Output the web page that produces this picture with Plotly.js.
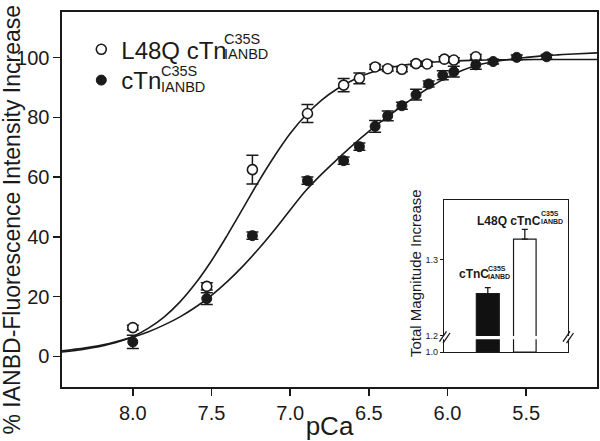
<!DOCTYPE html>
<html>
<head>
<meta charset="utf-8">
<script src="https://cdn.plot.ly/plotly-3.0.1.min.js"></script>
<style>
  html, body { margin: 0; padding: 0; background: #ffffff; }
  #chart { width: 600px; height: 441px; }
</style>
</head>
<body>
<div id="chart"></div>
<script>
// ---------------- data ----------------
const pCaOpen   = [8.00, 7.53, 7.24, 6.89, 6.66, 6.56, 6.46, 6.38, 6.29, 6.20, 6.13, 6.02, 5.96, 5.82];
const openVals  = [9.6, 23.4, 62.5, 81.3, 90.8, 93.1, 96.9, 96.3, 96.1, 98.0, 97.9, 99.5, 99.2, 100.3];
const openErr   = [0.8, 1.2, 4.8, 3.0, 2.2, 1.8, 0.8, 0.8, 0.8, 0.8, 0.8, 0.8, 0.8, 0.8];

const pCaFilled  = [8.00, 7.53, 7.24, 6.89, 6.66, 6.56, 6.46, 6.38, 6.29, 6.20, 6.12, 6.03, 5.96, 5.82, 5.71, 5.56, 5.37];
const filledVals = [4.8, 19.3, 40.4, 58.8, 65.5, 70.2, 77.0, 80.5, 83.9, 87.6, 91.2, 94.1, 95.3, 97.6, 98.7, 100.1, 100.3];
const filledErr  = [2.2, 2.0, 1.2, 1.2, 1.2, 1.2, 2.0, 1.6, 1.2, 1.8, 1.0, 1.5, 1.8, 1.5, 0.8, 0.8, 0.8];

// fitted curves
const curvePCa   = [8.45, 8.3, 8.15, 8.0, 7.9, 7.8, 7.7, 7.6, 7.5, 7.4, 7.3, 7.2, 7.1, 7.0, 6.9, 6.8, 6.7, 6.6, 6.5, 6.4, 6.3, 6.2, 6.1, 6.0, 5.9, 5.8, 5.7, 5.6, 5.5, 5.4, 5.3, 5.2, 5.05];
const curveOpen  = [1.4, 2.4, 4.0, 6.6, 9.4, 13.2, 18.2, 24.5, 32.0, 40.5, 49.5, 58.6, 67.0, 74.6, 80.8, 85.8, 89.6, 92.5, 94.8, 96.3, 97.3, 98.0, 98.5, 98.8, 99.0, 99.15, 99.25, 99.3, 99.35, 99.4, 99.4, 99.4, 99.4];
const curveFilled= [1.8, 2.8, 4.3, 6.4, 8.2, 10.5, 13.2, 16.5, 20.4, 25.0, 30.2, 36.0, 42.3, 49.0, 55.5, 61.0, 66.0, 70.8, 75.3, 79.5, 83.4, 87.1, 90.5, 93.5, 95.9, 97.6, 98.7, 99.5, 100.1, 100.6, 100.95, 101.25, 101.6];

const xTicks = [8.0, 7.5, 7.0, 6.5, 6.0, 5.5];
const yTicks = [0, 20, 40, 60, 80, 100];

// inset bar chart
const insetCats = ['cTnC', 'L48Q cTnC'];
const insetVals = [1.2555, 1.3273];
const insetErr  = [0.008, 0.013];
const insetColors = ['#111111', '#ffffff'];
const insetTickVals = [1.0, 1.2, 1.3];
const insetTickText = ['1.0', '1.2', '1.3'];

// ---------------- layout helpers ----------------
const W = 600, H = 441;
const M = {l: 62, r: 3, t: 12, b: 54};
const PW = W - M.l - M.r, PH = H - M.t - M.b;
const px2x = px => (px - M.l) / PW;
const py2y = py => (H - M.b - py) / PH;

const FN = "'Liberation Sans', Arial, sans-serif";
const INK = '#1a1a1a';

// broken inset axis: 1.0 .. 1.2 is compressed into a short stub
const breakLow = 1.2, stub = 0.0215;
const toDisp = v => v >= breakLow ? v : breakLow - (breakLow - v) / 0.2 * stub;
const insetBase = toDisp(1.0);

const traces = [
  {x: curvePCa, y: curveOpen, type: 'scatter', mode: 'lines', line: {color: INK, width: 1.6, shape: 'spline', smoothing: 1}, showlegend: false, hoverinfo: 'skip'},
  {x: curvePCa, y: curveFilled, type: 'scatter', mode: 'lines', line: {color: INK, width: 1.6, shape: 'spline', smoothing: 1}, showlegend: false, hoverinfo: 'skip'},
  {x: pCaOpen, y: openVals, type: 'scatter', mode: 'markers', name: 'L48Q cTn', legend: 'legend',
   marker: {symbol: 'circle', size: 10, color: '#ffffff', line: {color: INK, width: 1.6}},
   error_y: {type: 'data', array: openErr, visible: true, color: INK, thickness: 1.5, width: 6}},
  {x: pCaFilled, y: filledVals, type: 'scatter', mode: 'markers', name: 'cTn', legend: 'legend2',
   marker: {symbol: 'circle', size: 10, color: INK, line: {color: INK, width: 1}},
   error_y: {type: 'data', array: filledErr, visible: true, color: INK, thickness: 1.5, width: 6}},
  {x: insetCats, y: insetVals.map(v => v - insetBase), base: insetBase, type: 'bar', xaxis: 'x2', yaxis: 'y2',
   width: [0.62, 0.61], showlegend: false,
   marker: {color: insetColors, line: {color: INK, width: 1.2}},
   error_y: {type: 'data', symmetric: false, array: insetErr, arrayminus: [0, 0], visible: true, color: INK, thickness: 1.3, width: 3}}
];

const inL = 444.3, inR = 567.7, inT = 200, inB = 352;
const ix = px => (px - inL) / (inR - inL);
const iy = py => breakLow - (py - 335.7) / 757;

const shapes = [
  {type: 'rect', xref: 'x2 domain', yref: 'y2', x0: -0.03, x1: 1.03, y0: iy(339.2), y1: iy(335.9), fillcolor: '#ffffff', line: {width: 0}, layer: 'above'},
  {type: 'line', xref: 'x2 domain', yref: 'y2', x0: ix(439.5), y0: iy(341.5), x1: ix(446.5), y1: iy(331.5), line: {color: INK, width: 1.3}, layer: 'above'},
  {type: 'line', xref: 'x2 domain', yref: 'y2', x0: ix(443), y0: iy(343), x1: ix(450), y1: iy(333), line: {color: INK, width: 1.3}, layer: 'above'},
  {type: 'line', xref: 'x2 domain', yref: 'y2', x0: ix(563), y0: iy(341.5), x1: ix(570), y1: iy(331.5), line: {color: INK, width: 1.3}, layer: 'above'},
  {type: 'line', xref: 'x2 domain', yref: 'y2', x0: ix(566.5), y0: iy(343), x1: ix(573.5), y1: iy(333), line: {color: INK, width: 1.3}, layer: 'above'}
];

function ann(text, px, py, size, opts) {
  return Object.assign({text: text, xref: 'paper', yref: 'paper', x: px2x(px), y: py2y(py),
    xanchor: 'left', yanchor: 'middle', showarrow: false, borderpad: 0,
    font: {family: FN, size: size, color: INK}}, opts || {});
}

const annotations = [
  // main y-axis title
  ann('% IANBD-Fluorescence Intensity Increase', 11, 219.5, 23, {xanchor: 'center', textangle: -90}),
  // legend scripts
  ann('C35S', 223, 38.5, 14.5),
  ann('IANBD', 223, 54.5, 14.5),
  ann('C35S', 159.5, 70.5, 14.5),
  ann('IANBD', 159.5, 87, 14.5),
  // inset labels
  ann('<b>L48Q cTnC</b>', 475.5, 220.5, 12),
  ann('<b>C35S</b>', 540, 213.5, 7),
  ann('<b>IANBD</b>', 540, 221.5, 7),
  ann('<b>cTnC</b>', 458, 274, 12),
  ann('<b>C35S</b>', 487, 268.5, 7),
  ann('<b>IANBD</b>', 487, 276, 7),
  ann('Total Magnitude Increase', 415, 273, 15, {xanchor: 'center', textangle: -90})
];

const legendBase = {xanchor: 'left', yanchor: 'top', bgcolor: 'rgba(0,0,0,0)',
  font: {family: FN, size: 24, color: INK}, itemwidth: 30, borderwidth: 0};

const layout = {
  width: W, height: H,
  margin: M,
  paper_bgcolor: '#ffffff', plot_bgcolor: '#ffffff',
  font: {family: FN, color: INK},
  showlegend: true,
  legend: Object.assign({x: px2x(81.3), y: py2y(27.2)}, legendBase),
  legend2: Object.assign({x: px2x(81.3), y: py2y(58)}, legendBase),
  xaxis: {range: [8.45, 5.05], tickvals: xTicks, tickformat: '.1f', ticks: 'outside', ticklen: 7, tickwidth: 1.5,
          tickcolor: INK, showline: true, linewidth: 1.6, linecolor: INK, mirror: true, showgrid: false, zeroline: false,
          tickfont: {family: FN, size: 20, color: INK},
          title: {text: 'pCa', font: {family: FN, size: 26, color: INK}, standoff: 0}},
  yaxis: {range: [-10.3, 115.3], tickvals: yTicks, ticks: 'outside', ticklen: 7, tickwidth: 1.5,
          tickcolor: INK, showline: true, linewidth: 1.6, linecolor: INK, mirror: true, showgrid: false, zeroline: false,
          tickfont: {family: FN, size: 20, color: INK}},
  xaxis2: {domain: [px2x(inL), px2x(inR)], anchor: 'y2', type: 'category', range: [-1.176, 2.159],
           showticklabels: false, ticks: '', showline: true, linewidth: 1.4, linecolor: INK, mirror: true, showgrid: false, zeroline: false},
  yaxis2: {domain: [py2y(inB), py2y(inT)], anchor: 'x2', range: [insetBase, 1.379],
           tickvals: insetTickVals.map(toDisp), ticktext: insetTickText, ticks: 'outside', ticklen: 3, tickwidth: 1,
           tickcolor: INK, showline: true, linewidth: 1.4, linecolor: INK, mirror: true, showgrid: false, zeroline: false,
           tickfont: {family: FN, size: 9, color: INK}},
  shapes: shapes,
  annotations: annotations,
  bargap: 0
};

Plotly.newPlot('chart', traces, layout, {displayModeBar: false, staticPlot: true});
</script>
</body>
</html>
